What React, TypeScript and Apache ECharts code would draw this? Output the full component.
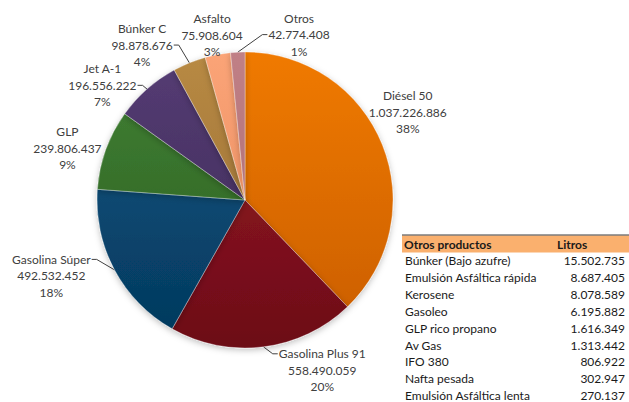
import React, { useEffect, useRef } from "react";
import * as echarts from "echarts";

const categories = ["Diésel 50", "Gasolina Plus 91", "Gasolina Súper", "GLP", "Jet A-1", "Búnker C", "Asfalto", "Otros"];
const values = [1037226886, 558490059, 492532452, 239806437, 196556222, 98878676, 75908604, 42774408];
const percentLabels = ["38%", "20%", "18%", "9%", "7%", "4%", "3%", "1%"];

const tableHeader = ["Otros productos", "Litros"];
const tableNames = ["Búnker (Bajo azufre)", "Emulsión Asfáltica rápida", "Kerosene", "Gasoleo", "GLP rico propano", "Av Gas", "IFO 380", "Nafta pesada", "Emulsión Asfáltica lenta"];
const tableValues = [15502735, 8687405, 8078589, 6195882, 1616349, 1313442, 806922, 302947, 270137];

// styling / layout (not data)
const topColors = ["#F07A05", "#9C1A26", "#0E5785", "#418234", "#553C74", "#B88A44", "#FBA477", "#C08086"];
const bottomColors = ["#C95D00", "#6C0C17", "#04385C", "#2B5B21", "#3C2953", "#946830", "#E4865A", "#A8666D"];
// label placement: polar [angle deg, distance px] from pie centre
const labelPlacement: [number, number][] = [[28.4, 185], [-65.6, 187], [-158.6, 208], [163.7, 185], [141.2, 183], [123.6, 186], [101.3, 168], [71.9, 174]];
// leader line attachment: side of label box and line index, or null
const lineAttach: ({ side: "left" | "right"; line: number } | null)[] = [
  null, { side: "left", line: 0 }, { side: "right", line: 0 }, null,
  { side: "right", line: 1 }, { side: "right", line: 1 }, null, { side: "left", line: 1 },
];

const fmt = (n: number) => String(n).replace(/\B(?=(\d{3})+(?!\d))/g, ".");

const FONT = "Lato, 'Open Sans', sans-serif";

export default function App() {
  const ref = useRef<HTMLDivElement>(null);
  useEffect(() => {
    if (!ref.current) return;
    const chart = echarts.init(ref.current, null, { renderer: "svg" });
    const cx = 245, cy = 200, r = 148;
    const total = values.reduce((a, b) => a + b, 0);
    let cum = 0;
    const midAngles = values.map((v) => {
      const m = 90 - (360 * (cum + v / 2)) / total;
      cum += v;
      return (m * Math.PI) / 180;
    });
    const data = values.map((v, i) => ({
      name: categories[i],
      value: v,
      pct: percentLabels[i],
      labelLine: { show: !!lineAttach[i] },
      itemStyle: {
        color: {
          type: "linear", x: 0, y: cy - r, x2: 0, y2: cy + r, global: true,
          colorStops: [{ offset: 0, color: topColors[i] }, { offset: 1, color: bottomColors[i] }],
        },
      },
    }));
    const rowH = 16.85;
    const tableTop = 235.5;
    const graphics: any[] = [
      { type: "rect", shape: { x: 402, y: tableTop, width: 227, height: 17 }, style: { fill: "#FAB06E" } },
      { type: "line", shape: { x1: 402, y1: tableTop - 0.5, x2: 629, y2: tableTop - 0.5 }, style: { stroke: "#3A3A3A", lineWidth: 1 } },
      { type: "text", x: 404, y: tableTop + 8.5, style: { text: tableHeader[0], font: `bold 12px ${FONT}`, fill: "#1A1A1A", verticalAlign: "middle" } },
      { type: "text", x: 557, y: tableTop + 8.5, style: { text: tableHeader[1], font: `bold 12px ${FONT}`, fill: "#1A1A1A", verticalAlign: "middle" } },
    ];
    tableNames.forEach((n, i) => {
      const y = tableTop + 8.5 + rowH * (i + 1);
      graphics.push({ type: "text", x: 405, y, style: { text: n, font: `12px ${FONT}`, fill: "#1A1A1A", verticalAlign: "middle" } });
      graphics.push({ type: "text", x: 625, y, style: { text: fmt(tableValues[i]), font: `12px ${FONT}`, fill: "#1A1A1A", align: "right", verticalAlign: "middle" } });
    });
    chart.setOption({
      animation: false,
      backgroundColor: "#ffffff",
      graphic: graphics,
      series: [
        {
          type: "pie",
          center: [cx, cy],
          radius: r,
          startAngle: 90,
          clockwise: true,
          avoidLabelOverlap: false,
          data,
          itemStyle: { borderColor: "rgba(255,255,255,0.6)", borderWidth: 0.5, shadowBlur: 6, shadowColor: "rgba(0,0,0,0.25)", shadowOffsetY: 2 },
          label: {
            show: true,
            position: "outside",
            overflow: "none",
            formatter: (p: any) => `{c|${p.name}}\n{c|${fmt(p.value)}}\n{c|${p.data.pct}}`,
            rich: { c: { align: "center", fontFamily: FONT, fontSize: 12, color: "#404040", lineHeight: 16.5 } },
          },
          labelLine: { show: true, length: 10, length2: 5, lineStyle: { color: "#404040", width: 1 } },
          labelLayout: (params: any) => {
            const i = params.dataIndex;
            const [ang, dist] = labelPlacement[i];
            const a = (ang * Math.PI) / 180;
            const x = cx + dist * Math.cos(a);
            const y = cy - dist * Math.sin(a);
            const w = params.labelRect.width;
            const res: any = { x, y, align: "center", verticalAlign: "middle" };
            const att = lineAttach[i];
            if (att) {
              const m = midAngles[i];
              const edge = [cx + r * Math.cos(m), cy - r * Math.sin(m)];
              const ex = att.side === "left" ? x - w / 2 - 1 : x + w / 2 + 1;
              const ey = y + (att.line - 1) * 16.5;
              const bx = ex + (att.side === "left" ? -5 : 5);
              res.labelLinePoints = [edge, [bx, ey], [ex, ey]];
            }
            return res;
          },
          emphasis: { disabled: true },
        },
      ],
    });
    return () => chart.dispose();
  }, []);
  return <div ref={ref} style={{ position: "fixed", left: 0, top: 0, width: 629, height: 402 }} />;
}
